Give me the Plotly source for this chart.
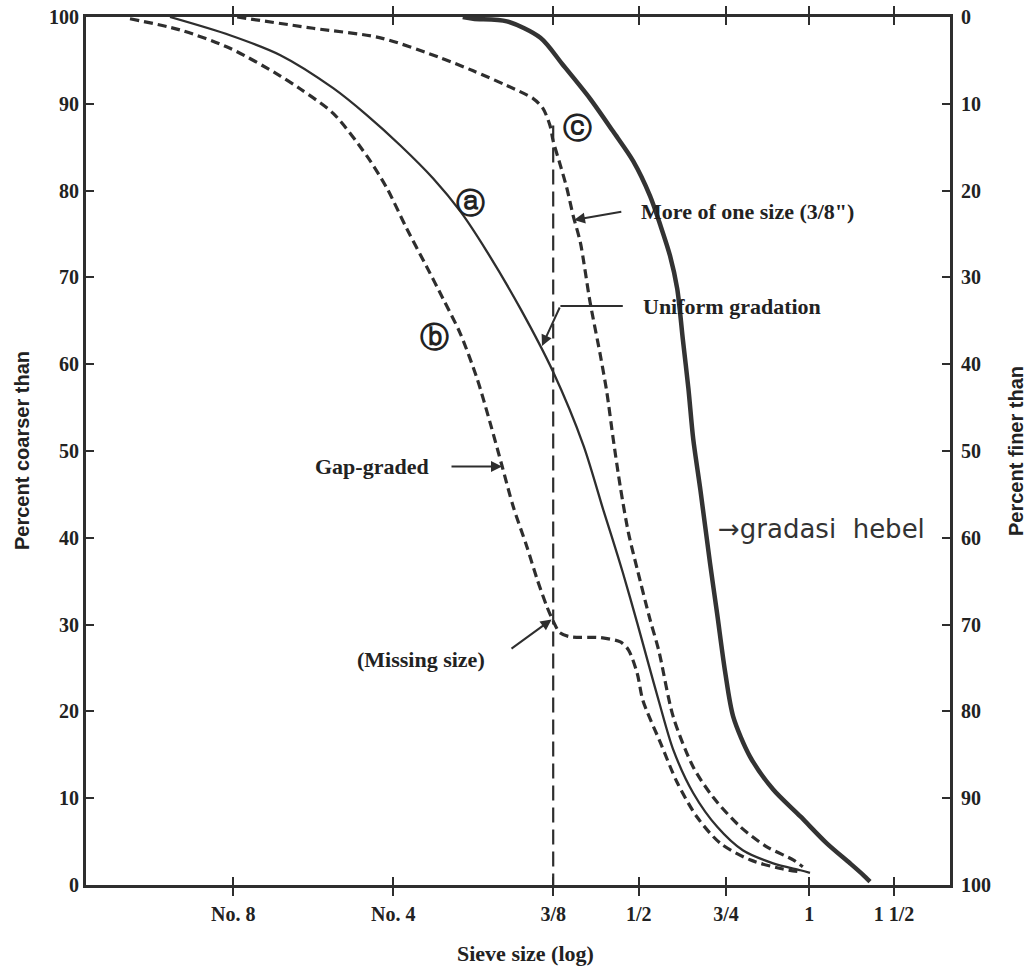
import plotly.graph_objects as go

# ---- axis ticks (positions on the sieve-size axis) ----
sieve_labels = ["No. 8", "No. 4", "3/8", "1/2", "3/4", "1", "1 1/2"]
sieve_pos = [1.84, 3.84, 5.84, 6.91, 8.0, 9.04, 10.1]
pct_ticks = [0, 10, 20, 30, 40, 50, 60, 70, 80, 90, 100]

# ---- curve a : uniform gradation (solid) ----
a_x = [1.05, 1.80, 2.43, 3.09, 3.51, 3.93, 4.34, 4.68, 5.01, 5.43, 5.84, 6.22,
       6.47, 6.57, 6.71, 6.89, 7.03, 7.16, 7.34, 7.59, 7.89, 8.21, 8.59, 8.93, 9.05]
a_y = [100, 97.9, 95.6, 91.8, 88.7, 85.2, 81.4, 77.6, 73.0, 66.4, 59.1, 50.6,
       43.1, 40.2, 36.0, 30.2, 25.5, 21.2, 15.6, 10.6, 6.7, 4.0, 2.5, 1.7, 1.4]

# ---- curve b : gap-graded (dashed) ----
b_x = [0.55, 1.18, 1.80, 2.43, 2.68, 3.09, 3.51, 3.76, 4.01, 4.26, 4.46, 4.68,
       4.89, 5.05, 5.20, 5.34, 5.51, 5.64, 5.76, 5.84, 5.92, 6.05, 6.43, 6.68,
       6.78, 6.89, 6.96, 7.18, 7.39, 7.64, 7.93, 8.30, 8.68, 8.93]
b_y = [99.8, 98.5, 96.4, 93.2, 91.7, 88.9, 84.0, 80.3, 75.6, 71.2, 67.6, 63.5,
       58.3, 53.3, 48.3, 43.6, 39.0, 35.2, 32.1, 30.4, 29.1, 28.6, 28.5, 28.0,
       27.1, 24.4, 21.3, 16.4, 11.8, 7.8, 4.8, 2.9, 1.9, 1.5]

# ---- curve c : more of one size (dashed) ----
c_x = [1.89, 2.84, 3.68, 4.43, 4.84, 5.26, 5.59, 5.71, 5.80, 5.84, 5.93, 6.01,
       6.09, 6.18, 6.30, 6.43, 6.51, 6.59, 6.68, 6.78, 6.89, 7.05, 7.16, 7.34,
       7.59, 7.84, 8.18, 8.51, 8.84, 8.96]
c_y = [100, 98.7, 97.6, 95.3, 93.8, 92.1, 90.6, 89.5, 87.5, 85.7, 82.9, 80.3,
       77.1, 74.0, 67.2, 61.0, 56.8, 51.4, 45.8, 40.6, 36.4, 30.6, 27.0, 19.4,
       13.6, 10.1, 6.7, 4.4, 2.9, 2.1]

# ---- curve d : gradasi hebel (thick, hand drawn) ----
d_x = [4.71, 4.84, 5.26, 5.68, 5.96, 6.30, 6.59, 6.84, 7.05, 7.18, 7.30, 7.39,
       7.46, 7.53, 7.59, 7.68, 7.80, 7.89, 7.99, 8.09, 8.30, 8.59, 8.93, 9.26,
       9.55, 9.71, 9.80]
d_y = [100, 99.8, 99.5, 97.6, 94.5, 90.6, 86.8, 83.4, 79.4, 76.0, 72.5, 68.7,
       62.9, 57.2, 51.4, 45.5, 37.1, 31.2, 24.5, 19.4, 14.8, 11.0, 7.9, 4.8,
       2.5, 1.2, 0.4]

# ---- vertical 3/8" reference line ----
v_x = [5.84, 5.84]
v_y = [87.5, 0]

INK = "#2e2e2e"
TXT = "#222222"
SERIF = "Liberation Serif"

fig = go.Figure()
common = dict(mode="lines", hoverinfo="skip", showlegend=False)
fig.add_trace(go.Scatter(x=v_x, y=v_y, line=dict(color=INK, width=2.2, dash="15px,7px"), **common))
fig.add_trace(go.Scatter(x=a_x, y=a_y, line=dict(color=INK, width=2.3, shape="spline", smoothing=0.8), **common))
fig.add_trace(go.Scatter(x=b_x, y=b_y, line=dict(color=INK, width=3.2, dash="9px,5px", shape="spline", smoothing=0.8), **common))
fig.add_trace(go.Scatter(x=c_x, y=c_y, line=dict(color=INK, width=3.2, dash="9px,5px", shape="spline", smoothing=0.8), **common))
fig.add_trace(go.Scatter(x=d_x, y=d_y, line=dict(color="#333333", width=4.5, shape="spline", smoothing=0.8), **common))
# invisible trace to keep the right-hand axis alive
fig.add_trace(go.Scatter(x=[sieve_pos[0]], y=[50], yaxis="y2", mode="markers",
                         marker=dict(opacity=0), hoverinfo="skip", showlegend=False))

# leader line for "Uniform gradation" (horizontal part)
fig.add_trace(go.Scatter(x=[6.71, 5.93], y=[66.7, 66.7], line=dict(color=INK, width=2), **common))

tickfont = dict(family=SERIF, size=20, color=TXT, weight="bold")
axis_common = dict(ticks="inside", ticklen=8, tickwidth=2, tickcolor=INK,
                   showline=True, linewidth=3, linecolor=INK,
                   showgrid=False, zeroline=False, tickfont=tickfont, automargin=False,
                   ticklabeloverflow="allow")
fig.update_layout(
    width=1036, height=973,
    margin=dict(l=86, r=86, t=17, b=88, autoexpand=False),
    paper_bgcolor="white", plot_bgcolor="white",
    xaxis=dict(range=[0, 10.8], tickvals=sieve_pos, ticktext=sieve_labels,
               mirror="allticks", ticklabelstandoff=9, **axis_common),
    yaxis=dict(range=[0, 100], tickvals=pct_ticks, mirror=True,
               ticklabelstandoff=0, **axis_common),
    yaxis2=dict(range=[100, 0], tickvals=pct_ticks, overlaying="y", side="right",
                ticklabelstandoff=4, **axis_common),
)

ann_font = dict(family=SERIF, size=22, color=TXT, weight="bold")
circ_font = dict(family="DejaVu Sans", size=29, color=TXT, weight="bold")
arrow = dict(axref="x", ayref="y", text="", showarrow=True,
             arrowhead=2, arrowsize=1.1, arrowwidth=2, arrowcolor=INK)
annotations = [
    # circled curve labels
    dict(x=4.80, y=78.6, text="ⓐ", showarrow=False, font=circ_font),
    dict(x=4.36, y=63.1, text="ⓑ", showarrow=False, font=circ_font),
    dict(x=6.14, y=87.2, text="ⓒ", showarrow=False, font=circ_font),
    # labelled texts
    dict(x=6.91, y=77.6, text="More of one size (3/8\")", xanchor="left", showarrow=False, font=ann_font),
    dict(x=6.94, y=66.6, text="Uniform gradation", xanchor="left", showarrow=False, font=ann_font),
    dict(x=3.58, y=48.2, text="Gap-graded", showarrow=False, font=ann_font),
    dict(x=4.19, y=26.0, text="(Missing size)", showarrow=False, font=ann_font),
    dict(x=7.88, y=41.0, text="→gradasi  hebel", xanchor="left", showarrow=False,
         font=dict(family="DejaVu Sans", size=26, color="#333333")),
    # arrows
    dict(x=6.10, y=76.6, ax=6.71, ay=77.6, **arrow),
    dict(x=5.70, y=62.1, ax=5.93, ay=66.7, **arrow),
    dict(x=5.20, y=48.2, ax=4.55, ay=48.2, **arrow),
    dict(x=5.82, y=30.6, ax=5.30, ay=27.1, **arrow),
    # axis titles
    dict(xref="paper", yref="paper", x=0, y=0.5, xshift=-64, xanchor="center", yanchor="middle",
         text="Percent coarser than", textangle=-90, showarrow=False,
         font=dict(family="Liberation Sans", size=20, color=TXT, weight="bold")),
    dict(xref="paper", yref="paper", x=1, y=0.5, xshift=66, xanchor="center", yanchor="middle",
         text="Percent finer than", textangle=-90, showarrow=False,
         font=dict(family="Liberation Sans", size=20, color=TXT, weight="bold")),
    dict(xref="paper", yref="paper", x=0.5, y=0, xshift=7, yshift=-68, xanchor="center", yanchor="middle",
         text="Sieve size (log)", showarrow=False,
         font=dict(family=SERIF, size=22, color=TXT, weight="bold")),
]
fig.update_layout(annotations=annotations)

# remove the browser's default 8px page margin so the figure sits at the window origin
fig.write_html("out.html", config={"displayModeBar": False},
               post_script="document.body.style.margin='0';")
